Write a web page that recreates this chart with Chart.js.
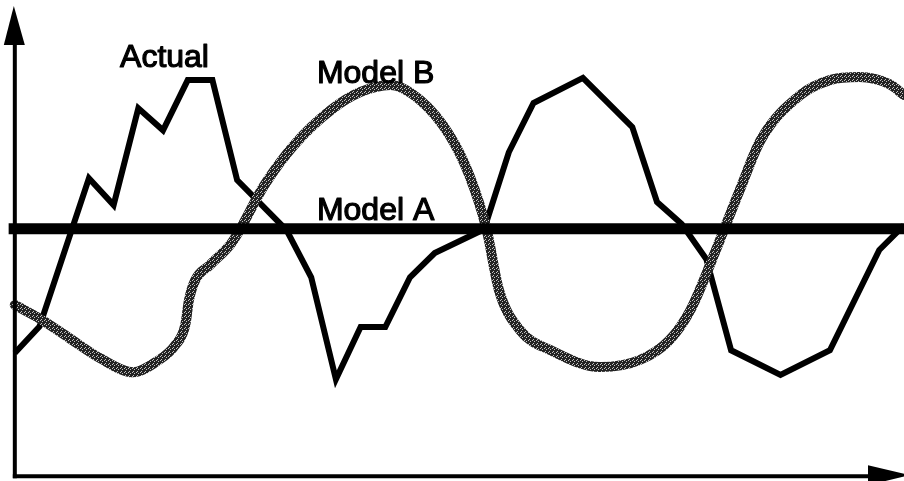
<!DOCTYPE html>
<html>
<head>
<meta charset="utf-8">
<script src="https://cdn.jsdelivr.net/npm/chart.js@4"></script>
<style>
  html, body { margin: 0; padding: 0; background: #fff; }
  canvas { display: block; }
</style>
</head>
<body>
<canvas id="myChart" width="904" height="481"></canvas>
<script>
// series (time steps, arbitrary value units)
var actualX = [0, 1, 3, 4, 5, 6, 7, 8, 9, 11, 12, 13, 14, 15, 16, 17, 19, 20, 21, 23, 25, 26, 27, 28, 29, 31, 33, 35, 36];
var actualY = [28, 34, 67.7, 61.6, 83.6, 78.6, 90, 90, 67.3, 55.9, 45.2, 22, 33.9, 33.9, 45.2, 50.7, 56.1, 73.6, 84.8, 90.5, 79.3, 62.3, 57.3, 49.3, 28.6, 23, 28.6, 51.4, 57];

var modelBX = [0, 1.1, 2.2, 3.45, 4.8, 5.7, 6.5, 6.9, 7.05, 7.3, 7.9, 8.8, 10.1, 11.3, 12.8, 14, 15.2, 16.4, 17.6, 18.4, 19.1, 19.6, 20.45, 21.7, 23.7, 25.3, 26.5, 27.35, 28.3, 29.35, 30.2, 31.8, 33, 34.2, 35.4, 36];
var modelBY = [38.9, 35.5, 31.4, 26.8, 23.6, 25.9, 29.8, 34.3, 40, 44.5, 48, 53.2, 66.1, 75.2, 83.2, 87.3, 88.9, 85.5, 77.5, 68.4, 56.1, 42.3, 33.2, 28.6, 24.8, 26.4, 30.9, 37.7, 50.2, 65, 76.4, 86.6, 90, 90.7, 89.1, 86.6];

var modelAX = [-0.25, 36];
var modelALevel = 56.2;

var seriesLabels = ['Actual', 'Model B', 'Model A'];
var labelPos = [[4.26, 93], [12.23, 89.3], [12.23, 58.2]];

function pts(xs, ys) {
    return xs.map(function (x, i) { return { x: x, y: ys[i] }; });
}

// stippled grey stroke like the printed Model B curve
function stipple() {
    var c = document.createElement('canvas');
    c.width = 4; c.height = 4;
    var g = c.getContext('2d');
    g.fillStyle = '#232323';
    g.fillRect(0, 0, 4, 4);
    g.fillStyle = '#c4c4c4';
    g.fillRect(0, 0, 1, 1);
    g.fillRect(2, 1, 1, 1);
    g.fillRect(1, 3, 1, 1);
    return g.createPattern(c, 'repeat');
}

var axesAndLabels = {
    id: 'axesAndLabels',
    afterDatasetsDraw: function (chart) {
        var ctx = chart.ctx;
        var xs = chart.scales.x, ys = chart.scales.y;
        var x0 = xs.getPixelForValue(0);
        var y0 = ys.getPixelForValue(0);
        ctx.save();
        ctx.fillStyle = '#000';
        ctx.strokeStyle = '#000';
        ctx.lineWidth = 4;
        // y axis
        ctx.beginPath();
        ctx.moveTo(x0, y0 + 2);
        ctx.lineTo(x0, 40);
        ctx.stroke();
        ctx.beginPath();
        ctx.moveTo(x0 - 1, 6);
        ctx.lineTo(x0 + 10, 45);
        ctx.lineTo(x0 - 11, 45);
        ctx.closePath();
        ctx.fill();
        // x axis
        ctx.beginPath();
        ctx.moveTo(x0 - 2, y0);
        ctx.lineTo(872, y0);
        ctx.stroke();
        ctx.beginPath();
        ctx.moveTo(868, y0 - 11);
        ctx.lineTo(910, y0 - 1);
        ctx.lineTo(868, y0 + 9);
        ctx.closePath();
        ctx.fill();
        // series labels, slightly heavier like the printed type
        ctx.font = '32px "Liberation Sans", Arial, sans-serif';
        ctx.textBaseline = 'alphabetic';
        ctx.textAlign = 'left';
        ctx.lineWidth = 1.2;
        ctx.lineJoin = 'round';
        seriesLabels.forEach(function (t, i) {
            var px = xs.getPixelForValue(labelPos[i][0]);
            var py = ys.getPixelForValue(labelPos[i][1]);
            ctx.fillText(t, px, py);
            ctx.strokeText(t, px, py);
        });
        ctx.restore();
    }
};

var ctx = document.getElementById('myChart').getContext('2d');
var myChart = new Chart(ctx, {
    type: 'line',
    data: {
        datasets: [{
            label: 'Model A',
            data: pts(modelAX, modelAX.map(function () { return modelALevel; })),
            borderColor: '#000',
            borderWidth: 11,
            pointRadius: 0,
            fill: false
        }, {
            label: 'Model B',
            data: pts(modelBX, modelBY),
            borderColor: stipple(),
            borderWidth: 10,
            cubicInterpolationMode: 'monotone',
            borderCapStyle: 'round',
            pointRadius: 0,
            fill: false
        }, {
            label: 'Actual',
            data: pts(actualX, actualY),
            borderColor: '#000',
            borderWidth: 6,
            borderJoinStyle: 'miter',
            tension: 0,
            pointRadius: 0,
            fill: false
        }]
    },
    options: {
        responsive: false,
        animation: false,
        devicePixelRatio: 1,
        layout: { padding: 0 },
        plugins: {
            legend: { display: false },
            tooltip: { enabled: false }
        },
        scales: {
            x: { type: 'linear', min: -0.6, max: 36, display: false },
            y: { min: -1.1, max: 108.2, display: false }
        }
    },
    plugins: [axesAndLabels]
});
</script>
</body>
</html>
